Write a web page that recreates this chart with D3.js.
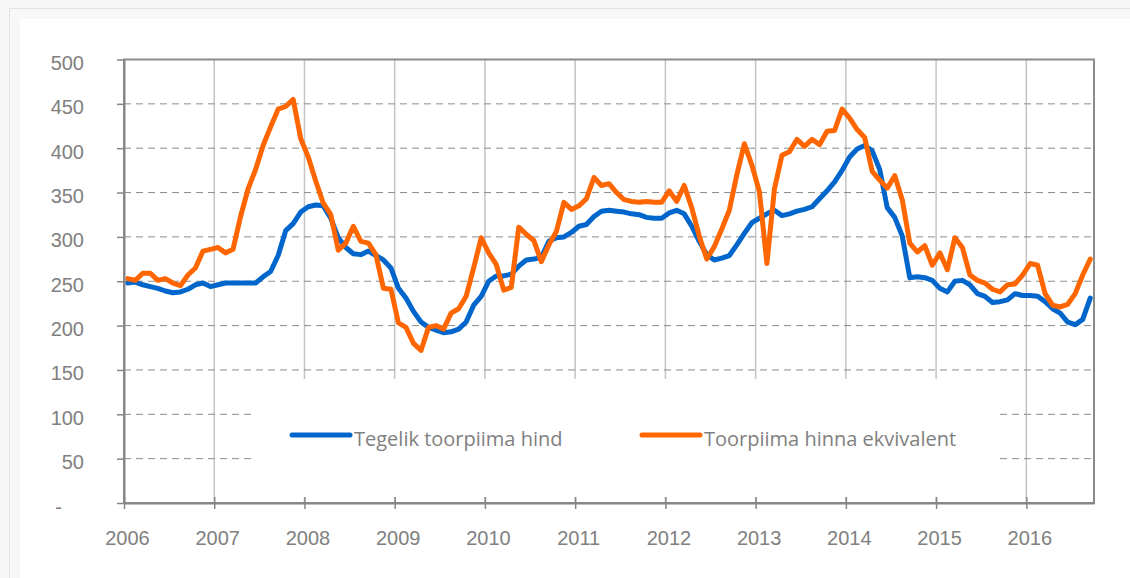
<!DOCTYPE html>
<html>
<head>
<meta charset="utf-8">
<script src="https://cdn.jsdelivr.net/npm/d3@7"></script>
<style>
  body { margin: 0; background: #f7f7f7; }
  svg { display: block; font-family: 'Open Sans', sans-serif; }
</style>
</head>
<body>
<div id="visualization"></div>
<script>
// tick labels
const years = ['2006', '2007', '2008', '2009', '2010', '2011', '2012', '2013', '2014', '2015', '2016'];
const yTicks = [0, 50, 100, 150, 200, 250, 300, 350, 400, 450, 500];
const seriesNames = ['Tegelik toorpiima hind', 'Toorpiima hinna ekvivalent'];

// monthly values, Jan 2006 - Sep 2016
const tegelikHind = [
  248, 249, 246, 244, 242, 239, 237, 238, 241, 246, 248, 244,
  246, 248, 248, 248, 248, 248, 255, 261, 279, 307, 315, 328,
  334, 336, 335, 321, 299, 288, 281, 280, 284, 279, 274, 265,
  242, 231, 216, 204, 198, 195, 192, 193, 196, 204, 223, 233,
  250, 256, 256, 258, 267, 274, 275, 277, 295, 299, 300, 305,
  312, 314, 323, 329, 330, 329, 328, 326, 325, 322, 321, 321,
  327, 330, 326, 312, 295, 280, 274, 276, 279, 291, 304, 316,
  321, 326, 330, 324, 326, 329, 331, 334, 343, 352, 362, 375,
  390, 399, 403, 397, 376, 333, 322, 301, 254, 255, 254, 251,
  242, 238, 250, 251, 246, 236, 233, 226, 227, 229, 236, 234,
  234, 233, 227, 219, 214, 204, 201, 207, 231,
];

const ekvivalent = [
  253, 251, 259, 259, 251, 253, 248, 245, 257, 265, 284, 286,
  288, 282, 286, 323, 354, 376, 403, 424, 444, 447, 455, 411,
  390, 363, 338, 325, 285, 293, 312, 295, 293, 280, 242, 241,
  203, 198, 180, 172, 198, 200, 196, 214, 219, 233, 265, 299,
  282, 269, 240, 243, 311, 303, 296, 272, 291, 306, 339, 331,
  335, 343, 367, 358, 360, 350, 342, 340, 339, 340, 339, 339,
  352, 340, 358, 333, 301, 275, 289, 309, 330, 370, 405, 381,
  351, 270, 354, 392, 396, 410, 402, 410, 404, 419, 420, 444,
  434, 421, 412, 374, 364, 355, 369, 342, 293, 283, 290, 268,
  282, 263, 299, 288, 257, 251, 248, 241, 238, 246, 247, 257,
  270, 268, 236, 223, 221, 224, 236, 257, 275,
];

const colors = ['#0066cc', '#ff6600'];

const width = 1130;
const height = 578;
const margin = {
  top: 59.5, right: 36, bottom: 75, left: 124,
};

const svg = d3.select('#visualization')
  .append('svg')
  .attr('width', width)
  .attr('height', height);

// page frame
svg.append('rect').attr('width', width).attr('height', height).attr('fill', '#f7f7f7');
svg.append('path').attr('d', `M9.5,${height}V8.5H${width}`)
  .attr('fill', 'none').attr('stroke', '#e2e2e2');
svg.append('rect').attr('x', 20).attr('y', 19)
  .attr('width', width - 20).attr('height', height - 19)
  .attr('fill', '#fff');

const nMonths = tegelikHind.length;

const x = d3.scaleLinear()
  .domain([0, nMonths])
  .range([margin.left, width - margin.right]);

const y = d3.scaleLinear()
  .domain([0, 500])
  .range([height - margin.bottom, margin.top]);

const yearTicks = years.map((d, i) => i * 12);

// gridlines
svg.append('g')
  .selectAll('line')
  .data(yearTicks.slice(1))
  .enter()
  .append('line')
  .attr('x1', (d) => x(d))
  .attr('x2', (d) => x(d))
  .attr('y1', y(500))
  .attr('y2', y(0))
  .attr('stroke', '#c4c4c4')
  .attr('stroke-width', 1.5);

svg.append('g')
  .selectAll('line')
  .data(yTicks.filter((d) => d > 0 && d < 500))
  .enter()
  .append('line')
  .attr('x1', x(0))
  .attr('x2', x(nMonths))
  .attr('y1', (d) => y(d))
  .attr('y2', (d) => y(d))
  .attr('stroke', '#8c8c8c')
  .attr('stroke-dasharray', '7,5');

// legend background hides the grid behind it
svg.append('rect')
  .attr('x', 252)
  .attr('y', 379)
  .attr('width', 747)
  .attr('height', 118)
  .attr('fill', '#fff');

// plot border
svg.append('rect')
  .attr('x', x(0))
  .attr('y', y(500))
  .attr('width', x(nMonths) - x(0))
  .attr('height', y(0) - y(500))
  .attr('fill', 'none')
  .attr('stroke', '#8c8c8c')
  .attr('stroke-width', 2);

// lines
const line = d3.line()
  .x((d, i) => x(i + 0.5))
  .y((d) => y(d));

[tegelikHind, ekvivalent].forEach((values, k) => {
  svg.append('path')
    .datum(values)
    .attr('d', line)
    .attr('fill', 'none')
    .attr('stroke', colors[k])
    .attr('stroke-width', 5)
    .attr('stroke-linejoin', 'round')
    .attr('stroke-linecap', 'round');
});

// axes
const yAxis = svg.append('g')
  .attr('transform', `translate(${margin.left},0)`)
  .call(d3.axisLeft(y)
    .tickValues(yTicks)
    .tickSize(7)
    .tickSizeOuter(0)
    .tickPadding(33)
    .tickFormat((d) => (d === 0 ? '-' : d)));

const xAxis = svg.append('g')
  .attr('transform', `translate(0,${height - margin.bottom})`)
  .call(d3.axisBottom(x)
    .tickValues(yearTicks)
    .tickSize(6)
    .tickSizeOuter(0)
    .tickFormat((d, i) => years[i]));

[yAxis, xAxis].forEach((axis) => {
  axis.select('.domain').attr('stroke', '#868686').attr('stroke-width', 2);
  axis.selectAll('.tick line').attr('stroke', '#868686').attr('stroke-width', 1.5);
  axis.selectAll('.tick text')
    .attr('fill', '#808080')
    .style('font-size', '20px');
});

yAxis.selectAll('.tick text').attr('dy', '0.5em');
yAxis.selectAll('.tick text').filter((d) => d === 0).attr('x', -62);

xAxis.selectAll('.tick line').attr('y1', -6);
xAxis.selectAll('.tick text').attr('y', 42).attr('dy', 0).attr('dx', 3);

// legend
const legendItems = [
  { name: seriesNames[0], color: colors[0], x: 292 },
  { name: seriesNames[1], color: colors[1], x: 642 },
];

const legend = svg.append('g')
  .selectAll('g')
  .data(legendItems)
  .enter()
  .append('g')
  .attr('transform', (d) => `translate(${d.x},435)`);

legend.append('line')
  .attr('x2', 58)
  .attr('stroke', (d) => d.color)
  .attr('stroke-width', 5)
  .attr('stroke-linecap', 'round');

legend.append('text')
  .attr('x', 62)
  .attr('y', 11)
  .attr('fill', '#808080')
  .style('font-size', '20px')
  .text((d) => d.name);
</script>
</body>
</html>
